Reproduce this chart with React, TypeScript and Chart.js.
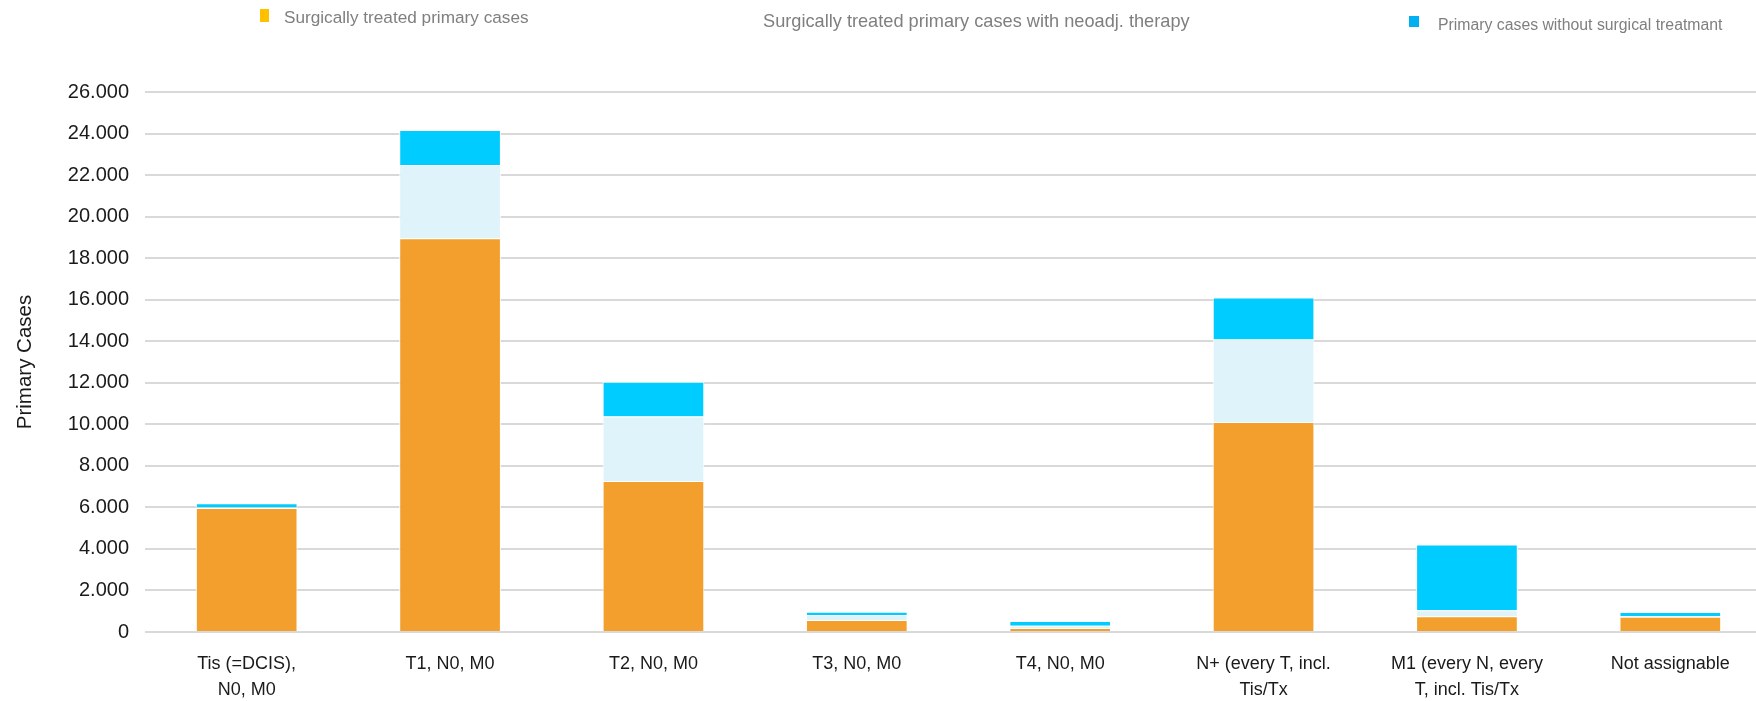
import React, { useEffect, useRef } from "react";
import { Chart, registerables } from "chart.js";

Chart.register(...registerables);

// ---- data ----
const categories: (string | string[])[] = [
  ["Tis (=DCIS),", "N0, M0"],
  "T1, N0, M0",
  "T2, N0, M0",
  "T3, N0, M0",
  "T4, N0, M0",
  ["N+ (every T, incl.", "Tis/Tx"],
  ["M1 (every N, every", "T, incl. Tis/Tx"],
  "Not assignable",
];

const seriesLabels = [
  "Surgically treated primary cases",
  "Surgically treated primary cases with neoadj. therapy",
  "Primary cases without surgical treatmant",
];

const surgical = [5970, 18955, 7270, 580, 195, 10110, 755, 740];
const neoadjuvant = [30, 3525, 3100, 235, 105, 3970, 290, 25];
const withoutSurgery = [195, 1690, 1680, 165, 230, 2020, 3165, 200];

const yMin = 0;
const yMax = 26000;
const yStep = 2000;

// ---- styles ----
const barColors = ["#F39F2D", "#DFF3FA", "#00CCFF"];
const legendMarkerColors = ["#FFC000", "#FFFFFF", "#00B0F0"];
const FONT = '"Liberation Sans", Arial, sans-serif';

const legendItems = [
  { mx: 260, my: 9, mw: 9, mh: 13, tx: 284, ty: 18, size: 17.2 },
  { mx: 740, my: 14, mw: 9, mh: 11, tx: 763, ty: 22, size: 18.2 },
  { mx: 1409, my: 16, mw: 10, mh: 11, tx: 1438, ty: 26, size: 15.8 },
];

const formatThousands = (v: number) =>
  String(Math.round(v)).replace(/\B(?=(\d{3})+(?!\d))/g, ".");

const legendPlugin = {
  id: "customLegend",
  afterDraw(chart: any) {
    const ctx = chart.ctx as CanvasRenderingContext2D;
    ctx.save();
    ctx.textBaseline = "middle";
    ctx.textAlign = "left";
    chart.data.datasets.forEach((ds: any, i: number) => {
      const it = legendItems[i];
      ctx.fillStyle = legendMarkerColors[i];
      ctx.fillRect(it.mx, it.my, it.mw, it.mh);
      ctx.font = `${it.size}px ${FONT}`;
      ctx.fillStyle = "#7F7F7F";
      ctx.fillText(ds.label, it.tx, it.ty);
    });
    ctx.restore();
  },
};

export default function App() {
  const canvasRef = useRef<HTMLCanvasElement | null>(null);

  useEffect(() => {
    if (!canvasRef.current) return;
    const chart = new Chart(canvasRef.current, {
      type: "bar",
      data: {
        labels: categories,
        datasets: [
          { label: seriesLabels[0], data: surgical, backgroundColor: barColors[0] },
          { label: seriesLabels[1], data: neoadjuvant, backgroundColor: barColors[1] },
          { label: seriesLabels[2], data: withoutSurgery, backgroundColor: barColors[2] },
        ].map((d) => ({
          ...d,
          borderColor: "#FFFFFF",
          borderWidth: 1,
          categoryPercentage: 1,
          barPercentage: 0.5,
        })),
      },
      options: {
        responsive: false,
        animation: false,
        devicePixelRatio: 1,
        layout: { padding: { top: 92, left: 0, right: 0, bottom: 0 } },
        plugins: {
          legend: { display: false },
          tooltip: { enabled: false },
        },
        scales: {
          x: {
            stacked: true,
            grid: { display: false, drawTicks: false },
            border: { display: false },
            ticks: {
              color: "#1A1A1A",
              font: { family: FONT, size: 18, lineHeight: 1.45 },
              padding: 19,
              maxRotation: 0,
              autoSkip: false,
            },
            afterFit: (scale: any) => {
              scale.height = 69;
            },
          },
          y: {
            stacked: true,
            min: yMin,
            max: yMax,
            grid: { color: "#D9D9D9", lineWidth: 2, drawTicks: false },
            border: { display: false },
            ticks: {
              stepSize: yStep,
              color: "#1A1A1A",
              font: { family: FONT, size: 20 },
              padding: 16,
              callback: (v: any) => formatThousands(Number(v)),
            },
            title: {
              display: true,
              text: "Primary Cases",
              color: "#1A1A1A",
              font: { family: FONT, size: 20.5 },
              padding: { top: 13, bottom: 0 },
            },
            afterFit: (scale: any) => {
              scale.width = 145;
            },
          },
        },
      },
      plugins: [legendPlugin],
    } as any);
    return () => chart.destroy();
  }, []);

  return (
    <div
      style={{
        position: "fixed",
        left: 0,
        top: 0,
        width: 1756,
        height: 701,
        overflow: "hidden",
        background: "#FFFFFF",
      }}
    >
      <canvas ref={canvasRef} width={1772} height={701} style={{ display: "block" }} />
    </div>
  );
}
